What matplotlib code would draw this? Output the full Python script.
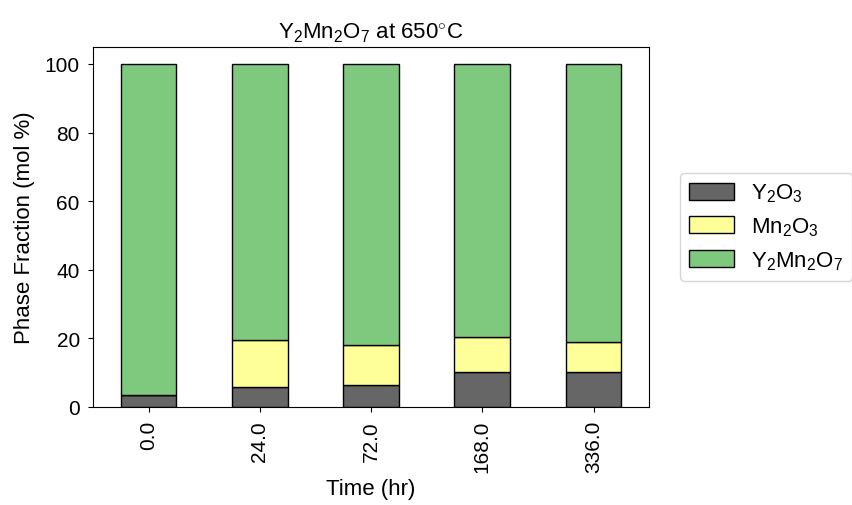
import matplotlib
matplotlib.use("Agg")
import matplotlib.pyplot as plt
import numpy as np

plt.rcParams['font.family'] = ['Liberation Sans', 'DejaVu Sans']
plt.rcParams['mathtext.fontset'] = 'custom'
plt.rcParams['mathtext.rm'] = 'Liberation Sans'
plt.rcParams['mathtext.it'] = 'Liberation Sans:italic'
plt.rcParams['mathtext.bf'] = 'Liberation Sans:bold'

times = ['0.0', '24.0', '72.0', '168.0', '336.0']
y2o3 = [3.4, 5.8, 6.4, 10.2, 10.2]
mn2o3 = [0.0, 13.6, 11.6, 10.3, 8.6]
y2mn2o7 = [100 - a - b for a, b in zip(y2o3, mn2o3)]

labels = ['Y$_2$O$_3$', 'Mn$_2$O$_3$', 'Y$_2$Mn$_2$O$_7$']
colors = ['#666666', '#ffff99', '#7fc97f']

fig = plt.figure(figsize=(8.53, 5.06), dpi=100)
ax = fig.add_axes([0.109, 0.194, 0.652, 0.7115])

x = np.arange(len(times))
bottom = np.zeros(len(times))
for vals, lab, col in zip([y2o3, mn2o3, y2mn2o7], labels, colors):
    ax.bar(x, vals, 0.5, bottom=bottom, color=col, edgecolor='black', linewidth=1, label=lab)
    bottom += np.array(vals)

ax.set_xlim(-0.5, 4.5)
ax.set_ylim(0, 105)
ax.set_xticks(x)
ax.set_xticklabels(times, rotation=90)
ax.set_yticks([0, 20, 40, 60, 80, 100])
ax.tick_params(labelsize=15, pad=6)
ax.set_xlabel('Time (hr)', fontsize=16)
ax.set_ylabel('Phase Fraction (mol %)', fontsize=16, labelpad=7)
ax.set_title('Y$_2$Mn$_2$O$_7$ at 650$^{\\circ}$C', fontsize=16, pad=7)
ax.legend(loc='center left', bbox_to_anchor=(1.056, 0.5), borderaxespad=0,
          fontsize=16, handleheight=0.8)

fig.savefig('out.png', dpi=100)
